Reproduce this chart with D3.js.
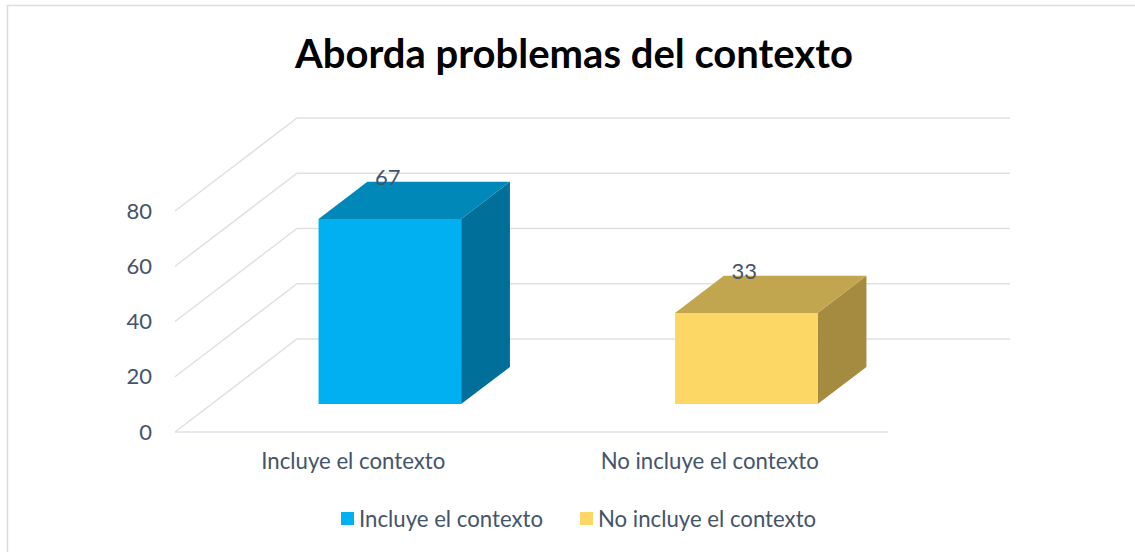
<!DOCTYPE html>
<html>
<head>
<meta charset="utf-8">
<script src="https://cdn.jsdelivr.net/npm/d3@7"></script>
<style>
  body { margin: 0; background: #fff; }
  text { font-family: Lato, 'Open Sans', sans-serif; }
</style>
</head>
<body>
<div id="chart"></div>
<script>
const title = 'Aborda problemas del contexto';
const categories = ['Incluye el contexto', 'No incluye el contexto'];
const values = [67, 33];
const yTicks = [0, 20, 40, 60, 80];

const colors = [
  { front: '#00b0f0', top: '#0088b8', side: '#00709a' },
  { front: '#fdd766', top: '#c2a64f', side: '#a48b3f' },
];

const width = 1135,
  height = 552,
  // depth of the 3D box (offset from front to back wall)
  depthX = 122,
  depthY = -93,
  barDepth0 = 0.3,
  barDepth1 = 0.7;

const svg = d3
  .select('#chart')
  .append('svg')
  .attr('width', width)
  .attr('height', height);

// chart area border (only top/left visible in the frame)
svg
  .append('rect')
  .attr('x', 7.5)
  .attr('y', 5.5)
  .attr('width', width + 20)
  .attr('height', height + 20)
  .attr('fill', 'none')
  .attr('stroke', '#d9dde3')
  .attr('stroke-width', 1.5);

svg
  .append('text')
  .attr('x', 574)
  .attr('y', 68)
  .attr('text-anchor', 'middle')
  .attr('font-size', 40)
  .attr('font-weight', 700)
  .attr('fill', '#000')
  .text(title);

const xScale = d3
  .scaleBand()
  .domain(categories)
  .range([175, 888])
  .paddingInner(0.6)
  .paddingOuter(0.3);

const yScale = d3.scaleLinear().domain([0, 80]).range([432, 211]);

const x0 = 175,
  x1 = 888;

// gridlines: diagonal on the left side wall + horizontal on back wall
const grid = svg.append('g').attr('stroke', '#dde1e6').attr('stroke-width', 1.5).attr('fill', 'none');

yTicks.forEach((t) => {
  const y = yScale(t);
  grid
    .append('path')
    .attr('d', `M${x0},${y}L${x0 + depthX},${y + depthY}L${x1 + depthX},${y + depthY}`);
});
grid.append('path').attr('d', `M${x0},${yScale(0)}L${x1},${yScale(0)}`);

// y tick labels
svg
  .append('g')
  .selectAll('text')
  .data(yTicks)
  .enter()
  .append('text')
  .attr('x', 152)
  .attr('y', (d) => yScale(d))
  .attr('dy', '0.35em')
  .attr('text-anchor', 'end')
  .attr('font-size', 22)
  .attr('fill', '#44546a')
  .text((d) => d);

// bars
const bars = svg
  .append('g')
  .selectAll('g')
  .data(values)
  .enter()
  .append('g');

function box(d, i) {
  const ox = depthX * barDepth0,
    oy = depthY * barDepth0;
  const bx = depthX * (barDepth1 - barDepth0),
    by = depthY * (barDepth1 - barDepth0);
  const left = xScale(categories[i]) + ox,
    right = left + xScale.bandwidth(),
    bottom = yScale(0) + oy,
    top = yScale(d) + oy;
  return { left, right, bottom, top, bx, by };
}

bars
  .append('path')
  .attr('fill', (d, i) => colors[i].side)
  .attr('d', (d, i) => {
    const b = box(d, i);
    return `M${b.right},${b.bottom}L${b.right + b.bx},${b.bottom + b.by}L${b.right + b.bx},${b.top + b.by}L${b.right},${b.top}Z`;
  });

bars
  .append('path')
  .attr('fill', (d, i) => colors[i].top)
  .attr('d', (d, i) => {
    const b = box(d, i);
    return `M${b.left},${b.top}L${b.left + b.bx},${b.top + b.by}L${b.right + b.bx},${b.top + b.by}L${b.right},${b.top}Z`;
  });

bars
  .append('path')
  .attr('fill', (d, i) => colors[i].front)
  .attr('d', (d, i) => {
    const b = box(d, i);
    return `M${b.left},${b.bottom}L${b.left},${b.top}L${b.right},${b.top}L${b.right},${b.bottom}Z`;
  });

bars
  .append('text')
  .attr('x', (d, i) => {
    const b = box(d, i);
    return (b.left + b.right) / 2 - 2;
  })
  .attr('y', (d, i) => box(d, i).top + box(d, i).by + 3)
  .attr('text-anchor', 'middle')
  .attr('font-size', 22)
  .attr('fill', '#44546a')
  .text((d) => d);

// category labels
svg
  .append('g')
  .selectAll('text')
  .data(categories)
  .enter()
  .append('text')
  .attr('x', (d) => xScale(d) + xScale.bandwidth() / 2)
  .attr('y', 469)
  .attr('text-anchor', 'middle')
  .attr('font-size', 22.2)
  .attr('fill', '#44546a')
  .text((d) => d);

// legend
const legendX = [341, 580];
const legend = svg
  .append('g')
  .selectAll('g')
  .data(categories)
  .enter()
  .append('g')
  .attr('transform', (d, i) => `translate(${legendX[i]}, 512)`);

legend
  .append('rect')
  .attr('width', 13)
  .attr('height', 13)
  .attr('fill', (d, i) => colors[i].front);

legend
  .append('text')
  .attr('x', 18)
  .attr('y', 15)
  .attr('font-size', 22.2)
  .attr('fill', '#44546a')
  .text((d) => d);
</script>
</body>
</html>
